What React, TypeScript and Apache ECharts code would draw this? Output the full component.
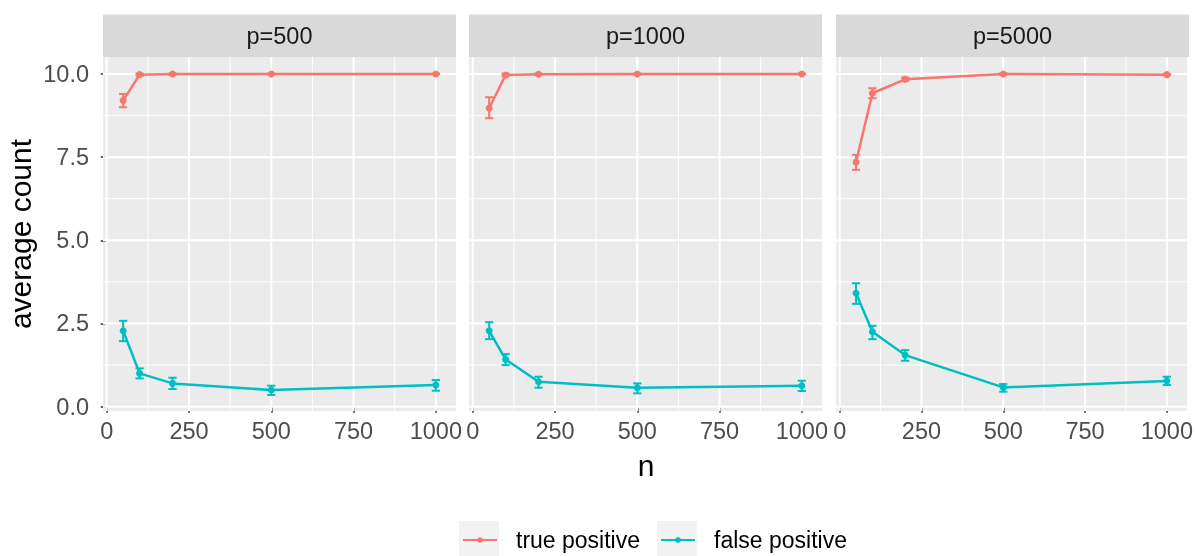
import React, { useEffect, useRef } from 'react';
import * as echarts from 'echarts';

const panels = ['p=500', 'p=1000', 'p=5000'];
const nValues = [50, 100, 200, 500, 1000];
const xTicks = [0, 250, 500, 750, 1000];
const xMinor = [125, 375, 625, 875];
const yTicks = [0, 2.5, 5, 7.5, 10];
const yMinor = [1.25, 3.75, 6.25, 8.75];
const seriesNames = ['true positive', 'false positive'];

// per panel (p=500, p=1000, p=5000), values at nValues
const tpMean = [
  [9.2, 9.98, 10.0, 10.0, 10.0],
  [8.97, 9.97, 9.99, 10.0, 10.0],
  [7.35, 9.42, 9.84, 10.0, 9.98],
];
const tpLow = [
  [9.0, 9.95, 9.98, 9.99, 9.99],
  [8.67, 9.93, 9.97, 9.99, 9.99],
  [7.12, 9.27, 9.79, 9.98, 9.96],
];
const tpHigh = [
  [9.4, 10.01, 10.01, 10.01, 10.01],
  [9.3, 10.01, 10.01, 10.01, 10.01],
  [7.57, 9.57, 9.89, 10.02, 10.0],
];
const fpMean = [
  [2.28, 1.0, 0.7, 0.5, 0.65],
  [2.28, 1.42, 0.75, 0.57, 0.63],
  [3.41, 2.25, 1.55, 0.58, 0.77],
];
const fpLow = [
  [1.97, 0.85, 0.53, 0.35, 0.48],
  [2.03, 1.25, 0.57, 0.4, 0.47],
  [3.09, 2.03, 1.38, 0.45, 0.65],
];
const fpHigh = [
  [2.58, 1.15, 0.87, 0.63, 0.8],
  [2.54, 1.58, 0.9, 0.7, 0.78],
  [3.71, 2.43, 1.7, 0.68, 0.9],
];

const COLORS = ['#F8766D', '#00BFC4'];
const FONT = '"Liberation Sans", Arial, Helvetica, sans-serif';
const PANEL_LEFT = [103, 469, 836];
const PANEL_W = 353;
const PANEL_TOP = 57;
const PANEL_H = 354;
const STRIP_TOP = 14.5;
const X_MIN = -11.25;
const X_MAX = 1061.25;
const Y_MIN = -0.13;
const Y_MAX = 10.51;
const CAP_HALF = 12.5;

export default function App() {
  const ref = useRef<HTMLDivElement>(null);

  useEffect(() => {
    if (!ref.current) return;
    const chart = echarts.init(ref.current, null, { renderer: 'svg' });

    const grids: any[] = [];
    const xAxes: any[] = [];
    const yAxes: any[] = [];
    const series: any[] = [];
    const graphics: any[] = [];

    panels.forEach((p, i) => {
      grids.push({
        left: PANEL_LEFT[i],
        top: PANEL_TOP,
        width: PANEL_W,
        height: PANEL_H,
        show: true,
        backgroundColor: '#EBEBEB',
        borderWidth: 0,
      });
      xAxes.push({
        type: 'value',
        gridIndex: i,
        min: X_MIN,
        max: X_MAX,
        axisLine: { show: false },
        axisTick: {
          show: true,
          length: 6,
          customValues: xTicks,
          lineStyle: { color: '#333333', width: 1.5 },
        },
        axisLabel: {
          customValues: xTicks,
          fontSize: 23.5,
          color: '#4D4D4D',
          fontFamily: FONT,
          margin: 8,
          formatter: (v: number) => String(v),
        },
        splitLine: { show: false },
      });
      yAxes.push({
        type: 'value',
        gridIndex: i,
        min: Y_MIN,
        max: Y_MAX,
        axisLine: { show: false },
        axisTick: {
          show: i === 0,
          length: 6,
          customValues: yTicks,
          lineStyle: { color: '#333333', width: 1.5 },
        },
        axisLabel: {
          show: i === 0,
          customValues: yTicks,
          fontSize: 23.5,
          color: '#4D4D4D',
          fontFamily: FONT,
          margin: 14,
          formatter: (v: number) => v.toFixed(1),
        },
        splitLine: { show: false },
        name: i === 0 ? 'average count' : '',
        nameLocation: 'middle',
        nameGap: 68,
        nameTextStyle: { fontSize: 30, color: '#000', fontFamily: FONT },
      });

      // grid lines
      series.push({
        type: 'custom',
        xAxisIndex: i,
        yAxisIndex: i,
        silent: true,
        z: 1,
        data: [[0, 0]],
        encode: { x: 0, y: 1 },
        renderItem: (params: any, api: any) => {
          const cs = params.coordSys;
          const x0 = cs.x;
          const x1 = cs.x + cs.width;
          const y0 = cs.y;
          const y1 = cs.y + cs.height;
          const children: any[] = [];
          const addH = (v: number, w: number) => {
            const py = api.coord([0, v])[1];
            children.push({ type: 'line', shape: { x1: x0, y1: py, x2: x1, y2: py }, style: { stroke: '#FFFFFF', lineWidth: w } });
          };
          const addV = (v: number, w: number) => {
            const px = api.coord([v, 0])[0];
            children.push({ type: 'line', shape: { x1: px, y1: y0, x2: px, y2: y1 }, style: { stroke: '#FFFFFF', lineWidth: w } });
          };
          yMinor.forEach((v) => addH(v, 1));
          xMinor.forEach((v) => addV(v, 1));
          yTicks.forEach((v) => addH(v, 2));
          xTicks.forEach((v) => addV(v, 2));
          return { type: 'group', children };
        },
      });

      const groups = [
        { name: seriesNames[0], mean: tpMean[i], low: tpLow[i], high: tpHigh[i], color: COLORS[0] },
        { name: seriesNames[1], mean: fpMean[i], low: fpLow[i], high: fpHigh[i], color: COLORS[1] },
      ];
      groups.forEach((g) => {
        series.push({
          type: 'custom',
          name: g.name + ' error',
          xAxisIndex: i,
          yAxisIndex: i,
          z: 3,
          silent: true,
          itemStyle: { color: g.color },
          data: nValues.map((n, k) => [n, g.low[k], g.high[k]]),
          encode: { x: 0, y: [1, 2] },
          renderItem: (params: any, api: any) => {
            const x = api.value(0);
            const lo = api.coord([x, api.value(1)]);
            const hi = api.coord([x, api.value(2)]);
            const l = api.coord([x - CAP_HALF, api.value(1)]);
            const r = api.coord([x + CAP_HALF, api.value(1)]);
            const hw = (r[0] - l[0]) / 2;
            const style = { stroke: g.color, lineWidth: 2, fill: 'none' };
            return {
              type: 'group',
              children: [
                { type: 'line', shape: { x1: lo[0], y1: lo[1], x2: hi[0], y2: hi[1] }, style },
                { type: 'line', shape: { x1: lo[0] - hw, y1: lo[1], x2: lo[0] + hw, y2: lo[1] }, style },
                { type: 'line', shape: { x1: hi[0] - hw, y1: hi[1], x2: hi[0] + hw, y2: hi[1] }, style },
              ],
            };
          },
        });
        series.push({
          type: 'line',
          name: g.name,
          xAxisIndex: i,
          yAxisIndex: i,
          z: 4,
          data: nValues.map((n, k) => [n, g.mean[k]]),
          symbol: 'circle',
          symbolSize: 7,
          showSymbol: true,
          lineStyle: { color: g.color, width: 2.5 },
          itemStyle: { color: g.color },
        });
      });

      // strip
      graphics.push({
        type: 'rect',
        shape: { x: PANEL_LEFT[i], y: STRIP_TOP, width: PANEL_W, height: PANEL_TOP - STRIP_TOP },
        style: { fill: '#D9D9D9' },
        silent: true,
      });
      graphics.push({
        type: 'text',
        x: PANEL_LEFT[i] + PANEL_W / 2,
        y: (STRIP_TOP + PANEL_TOP) / 2,
        style: {
          text: p,
          fontSize: 23.5,
          fill: '#1A1A1A',
          fontFamily: FONT,
          align: 'center',
          verticalAlign: 'middle',
        },
        silent: true,
      });
    });

    // x axis title
    graphics.push({
      type: 'text',
      x: (PANEL_LEFT[0] + PANEL_LEFT[2] + PANEL_W) / 2,
      y: 465,
      style: { text: 'n', fontSize: 30, fill: '#000', fontFamily: FONT, align: 'center', verticalAlign: 'middle' },
      silent: true,
    });
    // legend key backgrounds
    [459, 657].forEach((kx) => {
      graphics.push({
        type: 'rect',
        shape: { x: kx, y: 521, width: 40, height: 35 },
        style: { fill: '#F2F2F2' },
        silent: true,
        z: -1,
      });
    });

    chart.setOption({
      animation: false,
      grid: grids,
      xAxis: xAxes,
      yAxis: yAxes,
      series,
      graphic: { elements: graphics },
      legend: {
        data: seriesNames,
        left: 462,
        top: 528.5,
        padding: 0,
        itemWidth: 34,
        itemHeight: 7,
        itemGap: 20,
        selectedMode: false,
        textStyle: { fontSize: 23, color: '#000', fontFamily: FONT, padding: [0, 0, 0, 14] },
      },
    });

    return () => chart.dispose();
  }, []);

  return (
    <div
      ref={ref}
      style={{ position: 'fixed', left: 0, top: 0, width: 1196, height: 556 }}
    />
  );
}
